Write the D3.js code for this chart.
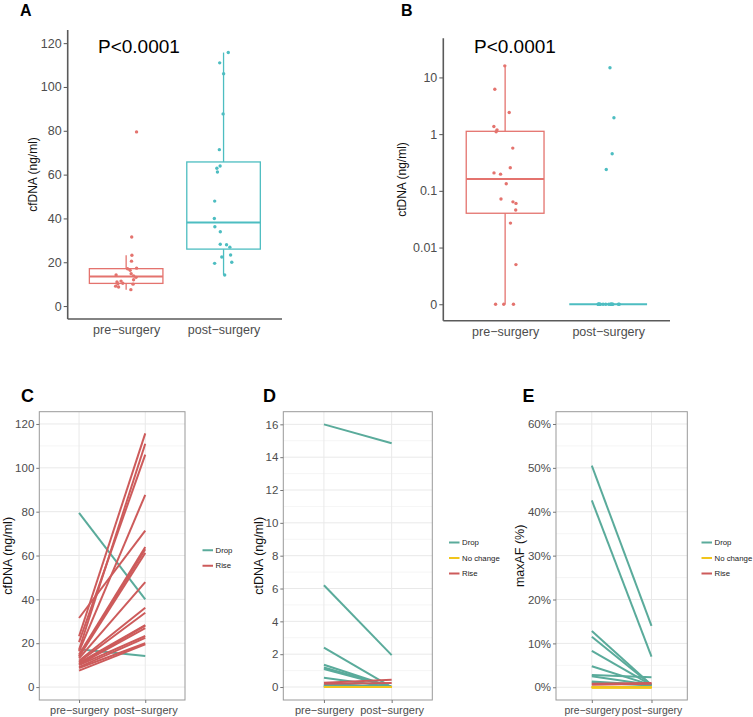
<!DOCTYPE html>
<html><head><meta charset="utf-8">
<script src="https://cdn.jsdelivr.net/npm/d3@7"></script>
<style>body{margin:0;background:#fff}svg{display:block}text{font-family:"Liberation Sans",Arial,sans-serif}</style>
</head><body><svg id="c" width="753" height="717"></svg>
<script>
// ---------- data ----------
const groups = ["pre-surgery", "post-surgery"];
const statusOrder = ["Drop", "No change", "Rise"];

// cfDNA (ng/ml), paired by index
const cfdnaPre  = [79.5, 31.5, 23.2, 20.5, 17.3, 17.0, 16.3, 14.8, 14.2, 13.8, 13.1, 12.0, 11.4, 11.0, 10.4, 10.2, 10.0, 9.1, 8.7, 7.5];
const cfdnaPost = [40.0, 71.4, 115.7, 106.0, 14.2, 111.0, 87.7, 63.9, 62.9, 61.2, 47.9, 36.2, 33.9, 28.2, 28.0, 26.9, 23.3, 22.4, 20.0, 19.5];

// ctDNA (ng/ml), paired by index
const ctdnaPre  = [16.0, 6.2, 2.4, 1.36, 1.19, 1.1, 0.567, 0.255, 0.207, 0.197, 0.133, 0.072, 0.064, 0.06, 0.046, 0.027, 0.005, 0, 0, 0];
const ctdnaPost = [14.85, 1.94, 0, 0, 0, 0, 0, 0.45, 0, 0.238, 0, 0, 0, 0, 0, 0, 0, 0, 0, 0];

// maxAF (%), paired by index
const mafPre  = [50.5, 42.6, 12.8, 11.5, 8.3, 4.8, 2.8, 2.5, 1.3, 1.1, 0.8, 0.6, 0, 0, 0, 0, 0, 0, 0, 0];
const mafPost = [14.0, 7.0, 0.5, 0.5, 0.5, 0.5, 2.3, 0.5, 0.5, 0.4, 1.0, 0.8, 0, 0, 0, 0, 0, 0, 0, 0];

const cfTicks = [0, 20, 40, 60, 80, 100, 120];
const ctTicks = [0, 0.01, 0.1, 1, 10];
const ctTickLabels = ["0", "0.01", "0.1", "1", "10"];
const ctLineTicks = [0, 2, 4, 6, 8, 10, 12, 14, 16];
const mafTicks = [0, 10, 20, 30, 40, 50, 60];

// ---------- drawing ----------
const svg = d3.select("#c");
const boxRed = "#e4736e", boxTeal = "#4dbdc1";
const statusColor = {"Drop": "#5aab9b", "No change": "#f1c51c", "Rise": "#cd5b5b"};
const tickGray = "#4d4d4d";

function panelLabel(t, x, y, size) {
  svg.append("text").attr("x", x).attr("y", y).attr("font-size", size)
    .attr("font-weight", "bold").attr("fill", "#000").text(t);
}

function boxPanel(cfg) {
  const g = svg.append("g");
  const x = d3.scalePoint().domain(groups).range([cfg.left, cfg.right]).padding(0.6);
  const y = d3.scaleLinear().domain(cfg.tDomain).range([cfg.bottom, cfg.top]);
  const step = x.step(), bw = step * 0.755;

  const yAxis = d3.axisLeft(y).tickValues(cfg.ticks.map(cfg.t))
    .tickFormat((d, i) => cfg.tickLabels[i]).tickSize(4).tickSizeOuter(0);
  const ga = g.append("g").attr("transform", `translate(${cfg.left},0)`).call(yAxis);
  ga.select(".domain").remove();
  ga.selectAll(".tick line").attr("stroke", "#555").attr("stroke-width", 1);
  ga.selectAll(".tick text").attr("fill", tickGray).attr("font-size", 12.5)
    .attr("font-family", "Liberation Sans, Arial, sans-serif").attr("x", -6);

  const xAxis = d3.axisBottom(x).tickSize(0).tickSizeOuter(0);
  const gx = g.append("g").attr("transform", `translate(0,${cfg.bottom})`).call(xAxis);
  gx.select(".domain").remove();
  gx.selectAll(".tick text").attr("fill", tickGray).attr("font-size", 12.5)
    .attr("font-family", "Liberation Sans, Arial, sans-serif").attr("dy", "0.95em")
    .text(d => d.replace("-", "\u2212"));

  g.append("line").attr("x1", cfg.left).attr("x2", cfg.left).attr("y1", cfg.top).attr("y2", cfg.bottom)
    .attr("stroke", "#5a5a5a").attr("stroke-width", 1.6);
  g.append("line").attr("x1", cfg.left).attr("x2", cfg.right).attr("y1", cfg.bottom).attr("y2", cfg.bottom)
    .attr("stroke", "#5a5a5a").attr("stroke-width", 1.6);

  const rng = d3.randomLcg(cfg.seed);
  [cfg.pre, cfg.post].forEach((vals, gi) => {
    const col = gi === 0 ? boxRed : boxTeal;
    const cx = x(groups[gi]);
    const tv = vals.map(cfg.t).sort(d3.ascending);
    const q1 = d3.quantile(tv, 0.25), med = d3.quantile(tv, 0.5), q3 = d3.quantile(tv, 0.75);
    const iqr = q3 - q1;
    const lo = d3.min(tv.filter(v => v >= q1 - 1.5 * iqr));
    const hi = d3.max(tv.filter(v => v <= q3 + 1.5 * iqr));
    g.append("line").attr("x1", cx).attr("x2", cx).attr("y1", y(q3)).attr("y2", y(hi))
      .attr("stroke", col).attr("stroke-width", 1.3);
    g.append("line").attr("x1", cx).attr("x2", cx).attr("y1", y(q1)).attr("y2", y(lo))
      .attr("stroke", col).attr("stroke-width", 1.3);
    g.append("rect").attr("x", cx - bw / 2).attr("width", bw).attr("y", y(q3))
      .attr("height", Math.max(0, y(q1) - y(q3))).attr("fill", "none")
      .attr("stroke", col).attr("stroke-width", 1.3);
    g.append("line").attr("x1", cx - bw / 2).attr("x2", cx + bw / 2).attr("y1", y(med)).attr("y2", y(med))
      .attr("stroke", col).attr("stroke-width", 2);
    g.selectAll(null).data(vals).enter().append("circle")
      .attr("cx", () => cx + (rng() - 0.5) * 2 * 0.11 * step)
      .attr("cy", d => y(cfg.t(d))).attr("r", 1.7).attr("fill", col);
  });

  svg.append("text").attr("transform", `translate(${cfg.titleX},${(cfg.top + cfg.bottom) / 2}) rotate(-90)`)
    .attr("text-anchor", "middle").attr("dominant-baseline", "central").attr("font-size", 12)
    .attr("fill", "#111").text(cfg.title);
  svg.append("text").attr("x", cfg.pX).attr("y", 53).attr("font-size", 19)
    .attr("font-family", "Open Sans, sans-serif").attr("fill", "#000").text("P<0.0001");
}

function linePanel(cfg) {
  const g = svg.append("g");
  const x = d3.scalePoint().domain(groups).range([cfg.left, cfg.right]).padding(0.6);
  const y = d3.scaleLinear().domain(cfg.domain).range([cfg.bottom, cfg.top]);
  const grid = g.append("g");
  const minor = [];
  for (let i = 0; i < cfg.ticks.length - 1; i++) minor.push((cfg.ticks[i] + cfg.ticks[i + 1]) / 2);
  grid.selectAll(null).data(minor).enter().append("line")
    .attr("x1", cfg.left).attr("x2", cfg.right).attr("y1", d => y(d)).attr("y2", d => y(d))
    .attr("stroke", "#f3f3f3").attr("stroke-width", 0.8);
  grid.selectAll(null).data(cfg.ticks).enter().append("line")
    .attr("x1", cfg.left).attr("x2", cfg.right).attr("y1", d => y(d)).attr("y2", d => y(d))
    .attr("stroke", "#e9e9e9").attr("stroke-width", 1);
  grid.selectAll(null).data(groups).enter().append("line")
    .attr("x1", d => x(d)).attr("x2", d => x(d)).attr("y1", cfg.top).attr("y2", cfg.bottom)
    .attr("stroke", "#e9e9e9").attr("stroke-width", 1);

  const rows = cfg.pre.map((p, i) => {
    const q = cfg.post[i];
    return {pre: p, post: q, status: q < p ? "Drop" : (q > p ? "Rise" : "No change")};
  });
  ["Drop", "Rise", "No change"].forEach(s => {
    g.selectAll(null).data(rows.filter(r => r.status === s)).enter().append("line")
      .attr("x1", x(groups[0])).attr("x2", x(groups[1]))
      .attr("y1", d => y(d.pre)).attr("y2", d => y(d.post))
      .attr("stroke", statusColor[s]).attr("stroke-width", 2);
  });

  g.append("rect").attr("x", cfg.left).attr("y", cfg.top).attr("width", cfg.right - cfg.left)
    .attr("height", cfg.bottom - cfg.top).attr("fill", "none").attr("stroke", "#999").attr("stroke-width", 1);

  const yAxis = d3.axisLeft(y).tickValues(cfg.ticks).tickFormat(cfg.fmt).tickSize(3).tickSizeOuter(0);
  const ga = g.append("g").attr("transform", `translate(${cfg.left},0)`).call(yAxis);
  ga.select(".domain").remove();
  ga.selectAll(".tick line").attr("stroke", "#777");
  ga.selectAll(".tick text").attr("fill", tickGray).attr("font-size", 11.5)
    .attr("font-family", "Liberation Sans, Arial, sans-serif").attr("x", -5);
  const xAxis = d3.axisBottom(x).tickSize(3).tickSizeOuter(0);
  const gx = g.append("g").attr("transform", `translate(0,${cfg.bottom})`).call(xAxis);
  gx.select(".domain").remove();
  gx.selectAll(".tick line").attr("stroke", "#777");
  gx.selectAll(".tick text").attr("fill", tickGray).attr("font-size", cfg.xFont)
    .attr("font-family", "Liberation Sans, Arial, sans-serif").attr("y", 13.5).attr("dy", 0)
    .text(d => d.replace("-", "\u2212"));

  svg.append("text").attr("transform", `translate(${cfg.titleX},${(cfg.top + cfg.bottom) / 2}) rotate(-90)`)
    .attr("text-anchor", "middle").attr("dominant-baseline", "central").attr("font-size", 12.5)
    .attr("fill", "#111").text(cfg.title);

  const present = statusOrder.filter(s => rows.some(r => r.status === s));
  const cy0 = 558 - (present.length - 1) * 15.5 / 2;
  present.forEach((s, i) => {
    const yy = cy0 + i * 15.5;
    svg.append("line").attr("x1", cfg.legX).attr("x2", cfg.legX + 10.5).attr("y1", yy).attr("y2", yy)
      .attr("stroke", statusColor[s]).attr("stroke-width", 2);
    svg.append("text").attr("x", cfg.legX + 13).attr("y", yy).attr("dominant-baseline", "central")
      .attr("font-size", 7.8).attr("fill", "#222").text(s);
  });
}

// Panel A
panelLabel("A", 20, 15.5, 16);
boxPanel({left: 67.7, right: 282, top: 30, bottom: 319, tDomain: [-5.9, 126],
  t: v => v, ticks: cfTicks, tickLabels: cfTicks.map(String),
  pre: cfdnaPre, post: cfdnaPost, seed: 0.31, title: "cfDNA (ng/ml)", titleX: 33, pX: 98});

// Panel B
panelLabel("B", 401, 15.5, 16);
boxPanel({left: 443.3, right: 670, top: 38.3, bottom: 320.7, tDomain: [-3.29, 1.69],
  t: v => Math.log10(Math.max(v, 0.001)), ticks: ctTicks, tickLabels: ctTickLabels,
  pre: ctdnaPre, post: ctdnaPost, seed: 0.77, title: "ctDNA (ng/ml)", titleX: 401.7, pX: 474});

// Panel C
panelLabel("C", 21, 402, 18);
linePanel({left: 39.3, right: 185, top: 411.7, bottom: 700, domain: [-5.9, 125.6],
  ticks: cfTicks, fmt: d => d, pre: cfdnaPre, post: cfdnaPost,
  title: "cfDNA (ng/ml)", titleX: 8, legX: 202.5, xFont: 11});

// Panel D
panelLabel("D", 263, 402, 18);
linePanel({left: 283.3, right: 432.3, top: 411.7, bottom: 700, domain: [-0.79, 16.77],
  ticks: ctLineTicks, fmt: d => d, pre: ctdnaPre, post: ctdnaPost,
  title: "ctDNA (ng/ml)", titleX: 259, legX: 449, xFont: 11});

// Panel E
panelLabel("E", 522.5, 402, 18);
linePanel({left: 556, right: 687.3, top: 411.7, bottom: 700, domain: [-2.9, 62.8],
  ticks: mafTicks, fmt: d => d + "%", pre: mafPre, post: mafPost,
  title: "maxAF (%)", titleX: 520, legX: 701.5, xFont: 10.4});
</script></body></html>
